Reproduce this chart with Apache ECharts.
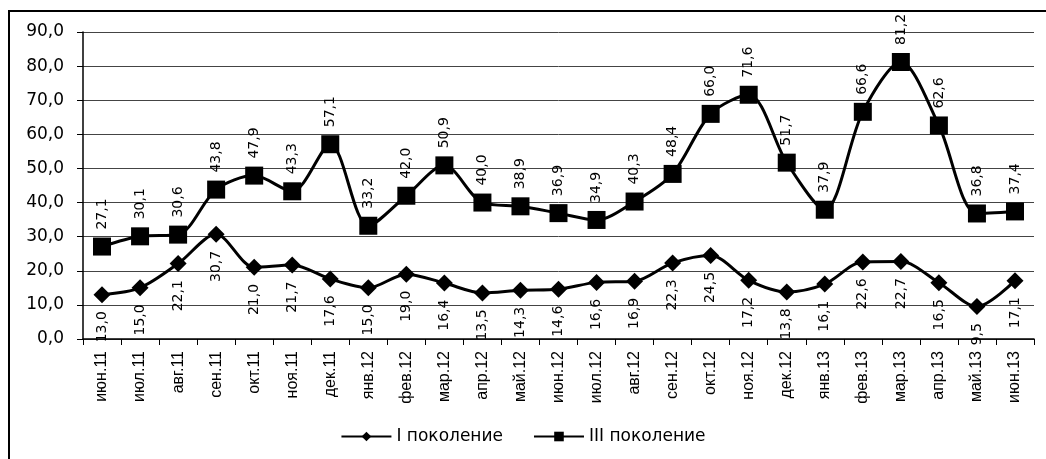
<!DOCTYPE html>
<html><head><meta charset="utf-8">
<script src="https://cdn.jsdelivr.net/npm/echarts@6/dist/echarts.min.js"></script>
<style>
html,body{margin:0;padding:0;background:#fff;}
#frame{position:absolute;left:8px;top:10px;width:1046px;height:459px;border-left:2px solid #000;border-top:2px solid #000;}
#c{position:absolute;left:0;top:0;width:1046px;height:459px;}
</style></head>
<body>
<div id="frame"></div>
<div id="c"></div>
<script>
const categories = ['июн.11','июл.11','авг.11','сен.11','окт.11','ноя.11','дек.11','янв.12','фев.12','мар.12','апр.12','май.12','июн.12','июл.12','авг.12','сен.12','окт.12','ноя.12','дек.12','янв.13','фев.13','мар.13','апр.13','май.13','июн.13'];
const gen1 = [13.0,15.0,22.1,30.7,21.0,21.7,17.6,15.0,19.0,16.4,13.5,14.3,14.6,16.6,16.9,22.3,24.5,17.2,13.8,16.1,22.6,22.7,16.5,9.5,17.1];
const gen3 = [27.1,30.1,30.6,43.8,47.9,43.3,57.1,33.2,42.0,50.9,40.0,38.9,36.9,34.9,40.3,48.4,66.0,71.6,51.7,37.9,66.6,81.2,62.6,36.8,37.4];
const seriesNames = ['I поколение','III поколение'];

const fmt = v => v.toFixed(1).replace('.', ',');
const chart = echarts.init(document.getElementById('c'));
chart.setOption({
  animation: false,
  backgroundColor: 'transparent',
  grid: {left: 83, right: 12, top: 32, bottom: 120},
  legend: {
    bottom: 9, left: 'center',
    itemWidth: 50, itemHeight: 12, itemGap: 30,
    textStyle: {fontFamily: 'DejaVu Sans', fontSize: 17, color: '#000'},
    data: seriesNames
  },
  xAxis: {
    type: 'category', data: categories, boundaryGap: true,
    axisLine: {lineStyle: {color: '#000', width: 1.5}},
    axisTick: {show: true, length: 6, lineStyle: {color: '#000'}},
    axisLabel: {rotate: 90, margin: 12, fontFamily: 'Liberation Sans', fontSize: 16, color: '#000'}
  },
  yAxis: {
    type: 'value', min: 0, max: 90, interval: 10,
    axisLine: {show: true, lineStyle: {color: '#000', width: 1.5}},
    axisTick: {show: true, length: 6, lineStyle: {color: '#000'}},
    splitLine: {lineStyle: {color: '#444', width: 1}},
    axisLabel: {formatter: v => fmt(v), fontFamily: 'DejaVu Sans', fontSize: 17, color: '#000', margin: 19}
  },
  series: [
    {
      name: seriesNames[0], type: 'line', data: gen1, smooth: 0.3,
      symbol: 'diamond', symbolSize: [17, 17],
      itemStyle: {color: '#000'}, lineStyle: {color: '#000', width: 3},
      label: {show: true, position: 'bottom', distance: 8, rotate: 90, align: 'right', verticalAlign: 'middle',
        formatter: p => fmt(p.value), fontFamily: 'DejaVu Sans', fontSize: 14, color: '#000'}
    },
    {
      name: seriesNames[1], type: 'line', data: gen3, smooth: 0.3,
      symbol: 'rect', symbolSize: 18,
      itemStyle: {color: '#000'}, lineStyle: {color: '#000', width: 3},
      label: {show: true, position: 'top', distance: 8, rotate: 90, align: 'left', verticalAlign: 'middle',
        formatter: p => fmt(p.value), fontFamily: 'DejaVu Sans', fontSize: 14, color: '#000'}
    }
  ]
});
</script>
</body></html>
